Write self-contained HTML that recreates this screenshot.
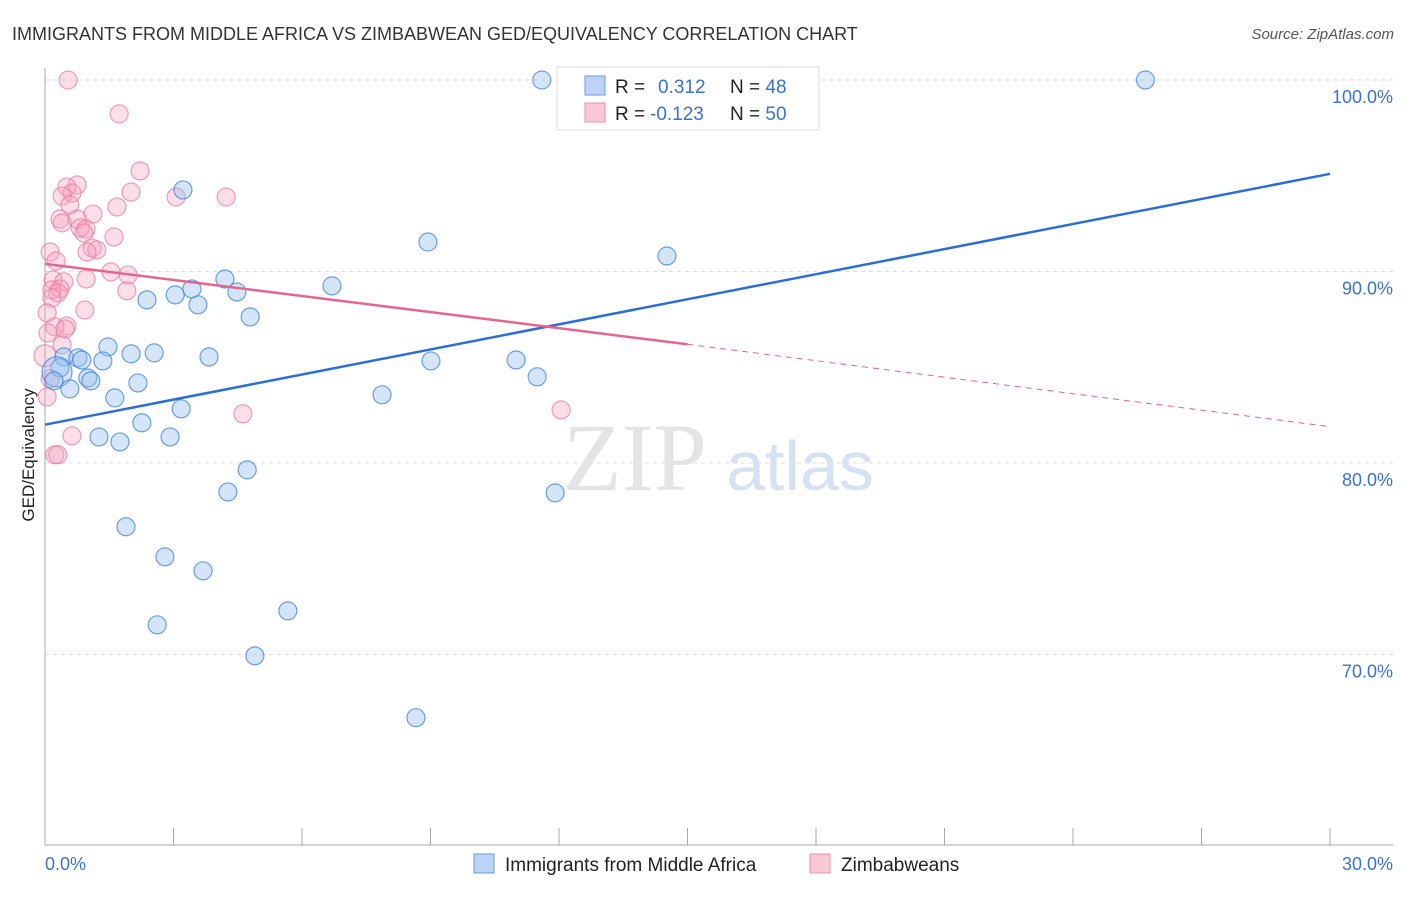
<!DOCTYPE html>
<html><head><meta charset="utf-8"><style>
body{margin:0;background:#fff;font-family:"Liberation Sans",sans-serif}
</style></head><body>
<svg width="1406" height="892" xmlns="http://www.w3.org/2000/svg">
<text x="12" y="40" font-size="18" fill="#333">IMMIGRANTS FROM MIDDLE AFRICA VS ZIMBABWEAN GED/EQUIVALENCY CORRELATION CHART</text>
<text x="1394" y="39" font-size="15" fill="#555" font-style="italic" text-anchor="end">Source: ZipAtlas.com</text>
<g id="grid"></g>
<text x="635" y="490" font-size="96" fill="#e4e4e4" font-family="Liberation Serif" text-anchor="middle">ZIP</text>
<text x="800" y="490" font-size="70" fill="#d4e2f4" text-anchor="middle">atlas</text>
<g id="pts"></g>
<g id="lines"></g>
<text transform="translate(34,455) rotate(-90)" font-size="17" fill="#222" text-anchor="middle">GED/Equivalency</text>
<text x="45" y="870" font-size="18" fill="#3a72d0">0.0%</text>
<text x="1393" y="870" font-size="18" fill="#3a72d0" text-anchor="end">30.0%</text>
<g>
<rect x="557" y="67" width="262" height="63" fill="#fff" stroke="#ddd"/>
<rect x="585" y="76" width="20" height="19" fill="#bcd3f5" stroke="#6a9be0"/>
<rect x="585" y="103" width="20" height="19" fill="#f9c7d6" stroke="#ec8fae"/>
<text x="615" y="93" font-size="19" fill="#222">R = <tspan fill="#3a72d0" x="658">0.312</tspan><tspan x="730">N = </tspan><tspan fill="#3a72d0">48</tspan></text>
<text x="615" y="120" font-size="19" fill="#222">R = <tspan fill="#3a72d0" x="650">-0.123</tspan><tspan x="730">N = </tspan><tspan fill="#3a72d0">50</tspan></text>
</g>
<g>
<rect x="474" y="854" width="20" height="19" fill="#bcd3f5" stroke="#6a9be0"/>
<text x="505" y="871" font-size="19" fill="#222">Immigrants from Middle Africa</text>
<rect x="810" y="854" width="20" height="19" fill="#f9c7d6" stroke="#ec8fae"/>
<text x="841" y="871" font-size="19" fill="#222">Zimbabweans</text>
</g>
</svg>
<script>
const blueX=[11.6,25.69,3.22,8.94,14.52,4.20,6.70,3.43,4.48,3.04,2.38,3.57,4.79,1.47,0.44,0.77,0.86,2.01,2.55,3.83,1.35,9.01,11.0,0.35,0.28,1.00,1.07,0.21,0.58,2.17,11.49,7.87,1.63,3.18,2.26,1.26,2.92,1.75,4.72,4.27,11.91,1.89,2.80,3.69,2.62,5.67,4.90,8.66];
const blueY=[100,100,94.26,91.54,90.81,89.61,89.25,89.09,88.93,88.78,88.52,88.26,87.63,86.06,85.54,85.49,85.38,85.70,85.75,85.54,85.33,85.33,85.38,84.97,84.76,84.44,84.29,84.29,83.87,84.18,84.50,83.56,83.40,82.83,82.10,81.36,81.36,81.10,79.64,78.49,78.44,76.67,75.10,74.37,71.55,72.28,69.93,66.70];
const pinkX=[0.54,1.73,2.22,0.75,0.51,0.63,2.01,0.40,3.06,4.23,1.68,0.58,1.12,0.35,0.75,0.40,0.82,0.96,0.91,1.61,1.10,1.21,0.98,0.12,0.26,1.54,1.94,0.96,0.19,0.44,0.35,0.16,1.91,0.30,0.16,0.93,0.05,0.51,0.23,0.47,0.07,0.40,0.05,4.62,12.05,0.63,0.23,0.30,0.0,0.12];
const pinkY=[100,98.23,95.25,94.52,94.41,94.10,94.15,93.94,93.89,93.89,93.37,93.48,93.0,92.74,92.74,92.54,92.27,92.22,92.01,91.80,91.23,91.13,91.02,91.02,90.55,89.98,89.82,89.61,89.56,89.46,89.09,89.04,88.99,88.88,88.62,87.99,87.84,87.16,87.11,87.00,86.79,86.17,83.45,82.57,82.77,81.42,80.43,80.43,85.6,84.4];
const yTicks=[100,90,80,70];
const xTicks=[0,3,6,9,12,15,18,21,24,27,30];
const blueTrend=[82.0,95.1];
const pinkTrend=[90.4,86.2,81.9];
const NS='http://www.w3.org/2000/svg';
const X=v=>45+v/30*1285, Y=v=>80+(100-v)*19.15;
function mk(tag,at,parent){const e=document.createElementNS(NS,tag);for(const k in at)e.setAttribute(k,at[k]);parent.appendChild(e);return e;}
const grid=document.getElementById('grid');
yTicks.forEach(t=>{
 const l=mk('line',{x1:45,x2:1393,y1:Y(t),y2:Y(t),stroke:'#ddd','stroke-dasharray':'4,4'},grid);
 
 
 const tx=mk('text',{x:1393,y:Y(t)+23,'font-size':18,fill:'#3a72d0','text-anchor':'end'},grid);
 tx.textContent=t.toFixed(1)+'%';
 
 
});
const ax=mk('line',{x1:45,x2:45,y1:68,y2:845,stroke:'#aaa'},grid);


const bx=mk('line',{x1:45,x2:1393,y1:845,y2:845,stroke:'#aaa'},grid);


xTicks.forEach(t=>{const l=mk('line',{x1:X(t),x2:X(t),y1:828,y2:845,stroke:'#aaa'},grid);
 
 });
const pts=document.getElementById('pts');
pinkX.forEach((v,i)=>{const c=mk('circle',{cx:X(v),cy:Y(pinkY[i]),r:i==48?11:9,fill:'rgba(245,160,190,0.35)',stroke:'rgba(232,120,160,0.7)','stroke-width':1.2},pts);
 
 });
blueX.forEach((v,i)=>{const c=mk('circle',{cx:X(v),cy:Y(blueY[i]),r:i==24?15:9,fill:'rgba(150,190,240,0.4)',stroke:'rgba(60,130,220,0.75)','stroke-width':1.2},pts);
 
 });
const lines=document.getElementById('lines');
const bl=mk('line',{x1:X(0),y1:Y(blueTrend[0]),x2:X(30),y2:Y(blueTrend[1]),stroke:'#2c6fd4','stroke-width':2.5},lines);


const pl=mk('line',{x1:X(0),y1:Y(pinkTrend[0]),x2:X(15),y2:Y(pinkTrend[1]),stroke:'#e4658f','stroke-width':2.5},lines);


const pd=mk('line',{x1:X(15),y1:Y(pinkTrend[1]),x2:X(30),y2:Y(pinkTrend[2]),stroke:'#e4658f','stroke-width':1,'stroke-dasharray':'6,5'},lines);


</script>
</body></html>
